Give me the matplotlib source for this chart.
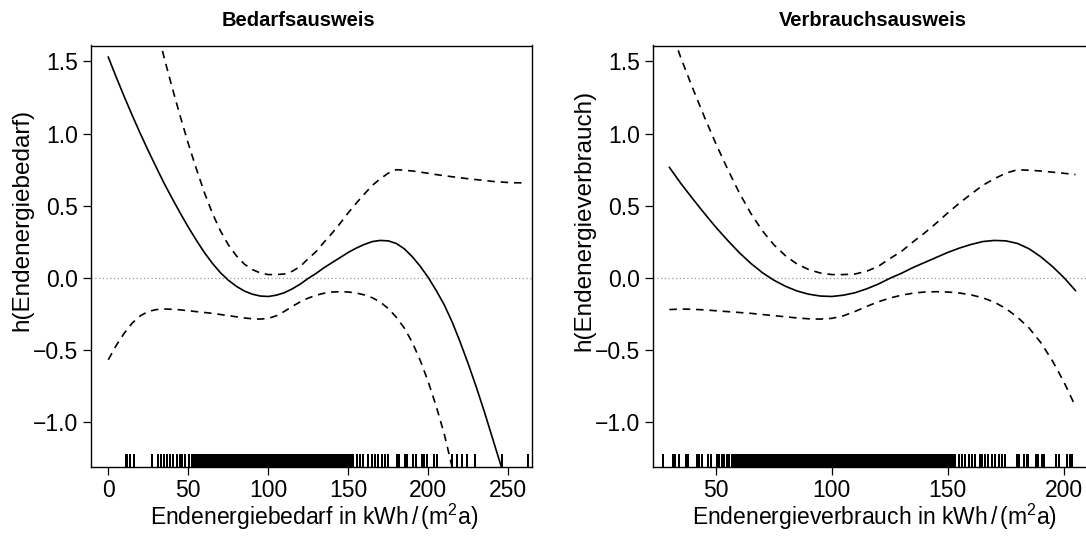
import numpy as np
import matplotlib
matplotlib.use("Agg")
import matplotlib.pyplot as plt

plt.rcParams['font.family'] = ['Liberation Sans', 'DejaVu Sans']
plt.rcParams['mathtext.fontset'] = 'custom'
plt.rcParams['mathtext.rm'] = 'Liberation Sans'
plt.rcParams['mathtext.it'] = 'Liberation Sans:italic'

# geschaetzte Glaettungsfunktion h() mit +/- 2 SE
xg = [0, 5, 10, 15, 20, 25, 30, 35, 40, 45, 50, 55, 60, 65, 70, 75, 80, 85, 90, 95,
      100, 105, 110, 115, 120, 125, 130, 135, 140, 145, 150, 155, 160, 165, 170, 175,
      180, 185, 190, 195, 200, 205, 210, 215, 220, 225, 230, 235, 240, 245, 250, 255, 260]
fit = [1.53, 1.39, 1.255, 1.125, 1.0, 0.88, 0.765, 0.652, 0.548, 0.447, 0.35, 0.26, 0.175,
       0.10, 0.035, -0.018, -0.06, -0.093, -0.115, -0.128, -0.131, -0.122, -0.105, -0.078,
       -0.045, -0.005, 0.03, 0.07, 0.105, 0.14, 0.175, 0.205, 0.23, 0.25, 0.258, 0.255,
       0.237, 0.20, 0.145, 0.078, 0.0, -0.09, -0.19, -0.31, -0.45, -0.60, -0.76, -0.93,
       -1.11, -1.29, -1.48, -1.68, -1.88]
lo = [-0.57, -0.47, -0.385, -0.315, -0.265, -0.235, -0.222, -0.218, -0.22, -0.224, -0.23,
      -0.236, -0.242, -0.248, -0.256, -0.264, -0.272, -0.28, -0.286, -0.288, -0.283,
      -0.265, -0.235, -0.20, -0.168, -0.142, -0.122, -0.108, -0.10, -0.098, -0.10, -0.107,
      -0.12, -0.14, -0.17, -0.215, -0.275, -0.35, -0.45, -0.576, -0.724, -0.895, -1.087,
      -1.32, -1.593, -1.886, -2.20, -2.534, -2.888, -3.244, -3.62, -4.018, -4.418]
hi = [3.63, 3.25, 2.895, 2.565, 2.265, 1.995, 1.752, 1.522, 1.316, 1.118, 0.93, 0.756, 0.592,
      0.448, 0.326, 0.228, 0.152, 0.094, 0.056, 0.032, 0.021, 0.021, 0.025, 0.044, 0.078,
      0.132, 0.182, 0.248, 0.31, 0.378, 0.45, 0.517, 0.58, 0.64, 0.686, 0.725, 0.749,
      0.745, 0.74, 0.732, 0.724, 0.715, 0.707, 0.70, 0.693, 0.686, 0.68, 0.674, 0.668,
      0.664, 0.66, 0.658, 0.658]

# Rug Bedarfsausweis
rug_bedarf = [10.9, 11.9, 13.4, 16.3, 27.1, 31.3, 32.7, 34.8, 36.5, 38.6, 40.6, 42.7, 44.8,
              45.9, 47.9, 50.4, 52.1, 53.1,
              54.0, 54.9, 55.7, 56.8, 57.6, 58.5, 59.6, 60.4, 61.3, 62.2, 63.1, 64.0, 65.0,
              65.8, 66.7, 67.6, 68.6, 69.4, 70.3, 71.2, 72.1, 73.0, 74.0, 74.8, 75.7, 76.6,
              77.5, 78.5, 79.3, 80.2, 81.1, 82.0, 83.0, 83.8, 84.7, 85.6, 86.5, 87.5, 88.3,
              89.2, 90.1, 91.0, 92.0, 92.8, 93.7, 94.6, 95.5, 96.5, 97.3, 98.2, 99.1, 100.0,
              101.0, 101.8, 102.7, 103.6, 104.5, 105.5, 106.3, 107.2, 108.1, 109.0, 110.0,
              110.8, 111.7, 112.6, 113.5, 114.5, 115.3, 116.2, 117.1, 118.0, 119.0, 119.8,
              120.7, 121.6, 122.5, 123.5, 124.3, 125.2, 126.1, 127.0, 128.0, 128.8, 129.7,
              130.6, 131.5, 132.5, 133.3, 134.2, 135.1, 136.0, 137.0, 137.8, 138.7, 139.6,
              140.5, 141.5, 142.3, 143.2, 144.1, 145.0, 146.0, 146.8, 147.7, 148.6, 149.5,
              150.5, 151.3, 152.2, 153.1,
              155.3, 157.3, 159.4, 162.5, 164.6, 166.7, 168.8, 170.9, 172.9, 175.0, 180.2,
              181.9, 185.4, 186.9, 190.6, 192.3, 195.9, 197.3, 199.4, 203.6, 205.3, 214.6,
              217.8, 220.9, 224.0, 229.2, 245.9, 262.5]

# Rug Verbrauchsausweis
rug_verbrauch = [27.2, 31.5, 32.6, 34.3, 37.2, 37.9, 41.8, 42.9, 44.1, 46.8, 47.8, 50.4, 51.4,
                 52.6, 53.6, 54.7, 55.6,
                 57.0, 57.7, 58.4, 59.1, 59.8, 60.6, 61.3, 62.0, 62.7, 63.4, 64.2, 64.9, 65.6,
                 66.3, 67.0, 67.8, 68.5, 69.2, 69.9, 70.6, 71.4, 72.1, 72.8, 73.5, 74.2, 75.0,
                 75.7, 76.4, 77.1, 77.8, 78.6, 79.3, 80.0, 80.7, 81.4, 82.2, 82.9, 83.6, 84.3,
                 85.0, 85.8, 86.5, 87.2, 87.9, 88.6, 89.4, 90.1, 90.8, 91.5, 92.2, 93.0, 93.7,
                 94.4, 95.1, 95.8, 96.6, 97.3, 98.0, 98.7, 99.4, 100.2, 100.9, 101.6, 102.3,
                 103.0, 103.8, 104.5, 105.2, 105.9, 106.6, 107.4, 108.1, 108.8, 109.5, 110.2,
                 111.0, 111.7, 112.4, 113.1, 113.8, 114.6, 115.3, 116.0, 116.7, 117.4, 118.2,
                 118.9, 119.6, 120.3, 121.0, 121.8, 122.5, 123.2, 123.9, 124.6, 125.4, 126.1,
                 126.8, 127.5, 128.2, 129.0, 129.7, 130.4, 131.1, 131.8, 132.6, 133.3, 134.0,
                 134.7, 135.4, 136.2, 136.9, 137.6, 138.3, 139.0, 139.8, 140.5, 141.2, 141.9,
                 142.6, 143.4, 144.1, 144.8, 145.5, 146.2, 147.0, 147.7, 148.4, 149.1, 149.8,
                 150.6, 151.3, 152.0, 152.7, 153.1,
                 154.6, 156.0, 157.5, 158.9, 160.3, 161.8, 163.9, 164.7, 166.1, 167.5, 169.0,
                 170.4, 171.9, 173.3, 174.5, 179.7, 180.7, 183.0, 184.0, 184.7, 187.9, 189.0,
                 190.5, 191.5, 196.6, 197.7, 201.3, 202.7, 203.7]

yticks = [-1.0, -0.5, 0.0, 0.5, 1.0, 1.5]
ytick_labels = ['\u22121.0', '\u22120.5', '0.0', '0.5', '1.0', '1.5']
xticks_bedarf = [0, 50, 100, 150, 200, 250]
xticks_verbrauch = [50, 100, 150, 200]

xg = np.array(xg)
fit = np.array(fit)
lo = np.array(lo)
hi = np.array(hi)

fig = plt.figure(figsize=(10.86, 5.4), dpi=100)
W, H = 1086.0, 540.0
ax1 = fig.add_axes([90.7 / W, 1 - 466.7 / H, 441.6 / W, 421.2 / H])
ax2 = fig.add_axes([652.7 / W, 1 - 466.7 / H, 441.6 / W, 421.2 / H])

panels = [
    (ax1, (0, 260), (-11, 265), xticks_bedarf, rug_bedarf),
    (ax2, (30, 205), (22.8, 213.1), xticks_verbrauch, rug_verbrauch),
]

for ax, (x0, x1), xlim, xt, rug in panels:
    m = (xg >= x0) & (xg <= x1)
    ax.axhline(0, color='#9a9a9a', lw=0.9, ls=(0, (1, 2)))
    ax.plot(xg[m], fit[m], color='black', lw=1.2)
    ax.plot(xg[m], lo[m], color='black', lw=1.2, ls=(0, (4.5, 3.5)))
    ax.plot(xg[m], hi[m], color='black', lw=1.2, ls=(0, (4.5, 3.5)))
    # Rug-Striche am unteren Rand
    ax.vlines(rug, 0, 0.031, transform=ax.get_xaxis_transform(), color='black',
              lw=1.3, antialiased=False)
    ax.set_xlim(*xlim)
    ax.set_ylim(-1.3125, 1.611)
    ax.set_xticks(xt)
    ax.set_xticklabels([str(v) for v in xt])
    ax.set_yticks(yticks)
    ax.set_yticklabels(ytick_labels)
    ax.tick_params(direction='out', length=6, width=0.9, labelsize=16.5, pad=3)
    for s in ax.spines.values():
        s.set_linewidth(1.0)

# Beschriftungen
fig.text(298.5 / W, 1 - 20 / H, 'Bedarfsausweis', ha='center', va='center',
         fontsize=14.5, fontweight='bold')
fig.text(873 / W, 1 - 20 / H, 'Verbrauchsausweis', ha='center', va='center',
         fontsize=14.5, fontweight='bold')
fig.text(314 / W, 1 - 517 / H, 'Endenergiebedarf in kWh$\\,/\\,$(m$^{2}$a)',
         ha='center', va='center', fontsize=16.5)
fig.text(875 / W, 1 - 517 / H, 'Endenergieverbrauch in kWh$\\,/\\,$(m$^{2}$a)',
         ha='center', va='center', fontsize=16.5)
fig.text(22.5 / W, 1 - 220 / H, 'h(Endenergiebedarf)', rotation=90,
         ha='center', va='center', fontsize=17.5)
fig.text(584 / W, 1 - 220 / H, 'h(Endenergieverbrauch)', rotation=90,
         ha='center', va='center', fontsize=17.5)

fig.savefig('out.png', dpi=100)
